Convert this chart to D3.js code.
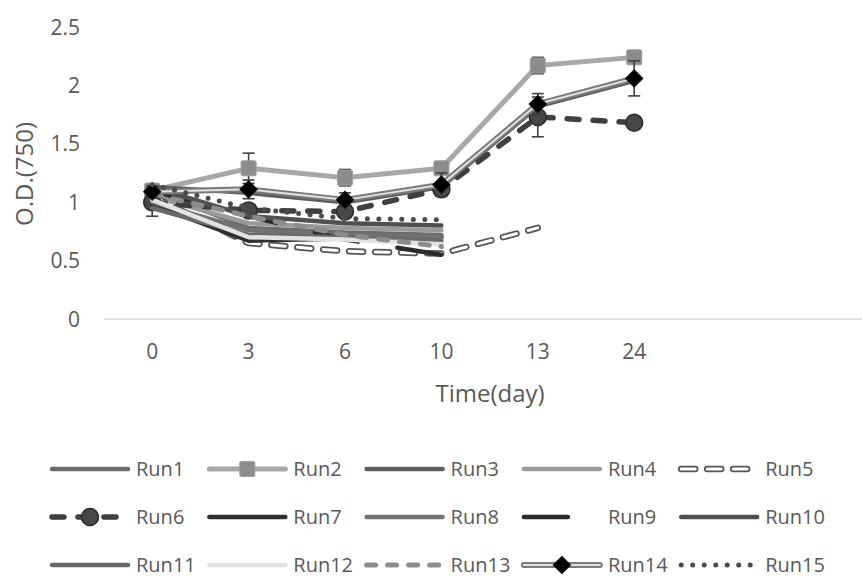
<!DOCTYPE html>
<html>
<head>
<meta charset="utf-8">
<script src="https://cdn.jsdelivr.net/npm/d3@7"></script>
<style>
  html, body { margin: 0; padding: 0; background: #fff; }
  svg { display: block; }
  text { font-family: "Open Sans", "Noto Sans", sans-serif; fill: #595959; }
</style>
</head>
<body>
<svg id="chart" width="862" height="577"></svg>
<script>
// Sampling days (categories on the x axis)
const days = ["0", "3", "6", "10", "13", "24"];
const yTicks = [0, 0.5, 1, 1.5, 2, 2.5];

// O.D.(750) readings per run; null where the run was not measured
const run1  = [1.10, 0.78, 0.74, 0.72, null, null];
const run2  = [1.10, 1.29, 1.21, 1.29, 2.17, 2.24];
const run3  = [1.13, 1.08, 1.00, 1.13, 1.82, 2.04];
const run4  = [1.05, 0.82, 0.78, 0.76, null, null];
const run5  = [1.05, 0.65, 0.58, 0.56, 0.78, null];
const run6  = [1.00, 0.93, 0.92, 1.11, 1.73, 1.68];
const run7  = [0.98, 0.67, 0.69, 0.70, null, null];
const run8  = [1.00, 0.76, 0.72, 0.70, null, null];
const run9  = [1.10, 0.88, 0.68, 0.55, null, null];
const run10 = [1.13, 0.88, 0.82, 0.80, null, null];
const run11 = [0.95, 0.72, 0.70, 0.67, null, null];
const run12 = [1.02, 0.70, 0.68, 0.64, null, null];
const run13 = [1.07, 0.88, 0.72, 0.62, null, null];
const run14 = [1.09, 1.11, 1.02, 1.15, 1.84, 2.06];
const run15 = [1.15, 0.95, 0.86, 0.85, null, null];

// Error (± half-range) for the runs shown with error bars
const err2  = [0.05, 0.13, 0.07, 0.05, 0.07, 0.03];
const err6  = [0.12, 0.05, 0.05, 0.05, 0.17, 0.03];
const err14 = [0.05, 0.08, 0.06, 0.10, 0.09, 0.15];

const runNames = ["Run1","Run2","Run3","Run4","Run5","Run6","Run7","Run8","Run9","Run10","Run11","Run12","Run13","Run14","Run15"];
const runValues = [run1,run2,run3,run4,run5,run6,run7,run8,run9,run10,run11,run12,run13,run14,run15];
const runErrors = {Run2: err2, Run6: err6, Run14: err14};

// Line appearance per run
const styles = {
  Run1:  {strokes: [{c: "#6b6b6b", w: 4.5}]},
  Run2:  {strokes: [{c: "#a8a8a8", w: 5}], marker: "square"},
  Run3:  {strokes: [{c: "#5c5c5c", w: 4.5}]},
  Run4:  {strokes: [{c: "#9a9a9a", w: 4.5}]},
  Run5:  {strokes: [{c: "#555555", w: 6.5, dash: "14 12"}, {c: "#ffffff", w: 3, dash: "14 12"}]},
  Run6:  {strokes: [{c: "#3f3f3f", w: 5.5, dash: "12 14"}], marker: "circle"},
  Run7:  {strokes: [{c: "#2e2e2e", w: 4.5}]},
  Run8:  {strokes: [{c: "#717171", w: 4.5}]},
  Run9:  {strokes: [{c: "#2b2b2b", w: 4.5, dash: "44 40"}]},
  Run10: {strokes: [{c: "#505050", w: 4.5}]},
  Run11: {strokes: [{c: "#696969", w: 4.5}]},
  Run12: {strokes: [{c: "#e3e3e3", w: 4.5}]},
  Run13: {strokes: [{c: "#8c8c8c", w: 5, dash: "9 12"}]},
  Run14: {strokes: [{c: "#7a7a7a", w: 6}, {c: "#e2e2e2", w: 2}], marker: "diamond"},
  Run15: {strokes: [{c: "#4a4a4a", w: 5, dash: "0 11.5"}]}
};

const svg = d3.select("#chart");
const plot = {left: 104, right: 862, top: 27, bottom: 319};
const step = 96.4;

const x = d3.scaleBand().domain(days).range([plot.left, plot.left + step * days.length]).paddingInner(0).paddingOuter(0);
const cx = d => x(d) + x.bandwidth() / 2;
const y = d3.scaleLinear().domain([0, 2.5]).range([plot.bottom, plot.top]);

// Baseline
svg.append("line")
  .attr("x1", plot.left).attr("x2", plot.right)
  .attr("y1", y(0)).attr("y2", y(0))
  .attr("stroke", "#d9d9d9").attr("stroke-width", 1.5);

// Y axis labels
const yAxis = d3.axisLeft(y).tickValues(yTicks).tickSize(0).tickPadding(0)
  .tickFormat(d3.format("~g"));
const gy = svg.append("g").attr("transform", "translate(80,0)").call(yAxis);
gy.select(".domain").remove();
gy.selectAll("text").style("font-size", "21px").attr("fill", "#595959")
  .style("font-family", "'Open Sans', sans-serif").attr("dy", "0.34em");

// X axis labels
const xAxis = d3.axisBottom(x).tickSize(0).tickPadding(0);
const gx = svg.append("g").attr("transform", "translate(0,352)").call(xAxis);
gx.select(".domain").remove();
gx.selectAll("text").style("font-size", "21px").attr("fill", "#595959")
  .style("font-family", "'Open Sans', sans-serif").attr("dy", "0.35em");

// Axis titles
svg.append("text").attr("x", 490).attr("y", 402).attr("text-anchor", "middle")
  .style("font-size", "24px").text("Time(day)");
svg.append("text").attr("transform", "translate(33,174) rotate(-90)").attr("text-anchor", "middle")
  .style("font-size", "24px").text("O.D.(750)");

function drawStrokes(g, pathD, st) {
  st.strokes.forEach(s => {
    g.append("path").attr("d", pathD)
      .attr("fill", "none").attr("stroke", s.c).attr("stroke-width", s.w)
      .attr("stroke-linecap", "round").attr("stroke-linejoin", "round")
      .attr("stroke-dasharray", s.dash || null);
  });
}

function drawMarker(g, kind, px, py) {
  if (kind === "square") {
    g.append("rect").attr("x", px - 7.5).attr("y", py - 7.5).attr("width", 15).attr("height", 15)
      .attr("rx", 1.5).attr("fill", "#8c8c8c").attr("stroke", "#9c9c9c").attr("stroke-width", 1);
  } else if (kind === "circle") {
    g.append("circle").attr("cx", px).attr("cy", py).attr("r", 8.5)
      .attr("fill", "#474747").attr("stroke", "#2a2a2a").attr("stroke-width", 1.5);
  } else if (kind === "diamond") {
    g.append("path").attr("d", d3.symbol(d3.symbolSquare, 150)())
      .attr("transform", `translate(${px},${py}) rotate(45)`)
      .attr("fill", "#000").attr("stroke", "#111").attr("stroke-width", 1);
  }
}

const lineGen = d3.line()
  .defined(d => d.v != null)
  .x(d => cx(d.day))
  .y(d => y(d.v));

// Series: line, error bars, markers (drawn in run order)
runNames.forEach((name, i) => {
  const pts = days.map((day, j) => ({day, v: runValues[i][j]}));
  const st = styles[name];
  const g = svg.append("g").attr("class", "series " + name);
  drawStrokes(g, lineGen(pts), st);
  const err = runErrors[name];
  if (err) {
    pts.forEach((p, j) => {
      if (p.v == null) return;
      const px = cx(p.day), y1 = y(p.v - err[j]), y2 = y(p.v + err[j]);
      g.append("line").attr("x1", px).attr("x2", px).attr("y1", y1).attr("y2", y2)
        .attr("stroke", "#404040").attr("stroke-width", 1.6);
      [y1, y2].forEach(yy => g.append("line").attr("x1", px - 6).attr("x2", px + 6)
        .attr("y1", yy).attr("y2", yy).attr("stroke", "#404040").attr("stroke-width", 1.6));
    });
  }
  if (st.marker) {
    pts.forEach(p => { if (p.v != null) drawMarker(g, st.marker, cx(p.day), y(p.v)); });
  }
});

// Legend: 5 columns × 3 rows
const legend = svg.append("g").attr("class", "legend");
runNames.forEach((name, i) => {
  const col = i % 5, row = Math.floor(i / 5);
  const x0 = 52 + col * 157.3, yy = 469 + row * 48;
  const st = styles[name];
  const g = legend.append("g");
  drawStrokes(g, `M${x0},${yy}L${x0 + 76},${yy}`, st);
  if (st.marker) drawMarker(g, st.marker, x0 + 38, yy);
  g.append("text").attr("x", x0 + 84).attr("y", yy).attr("dy", "0.36em")
    .style("font-size", "20px").text(name);
});
</script>
</body>
</html>
